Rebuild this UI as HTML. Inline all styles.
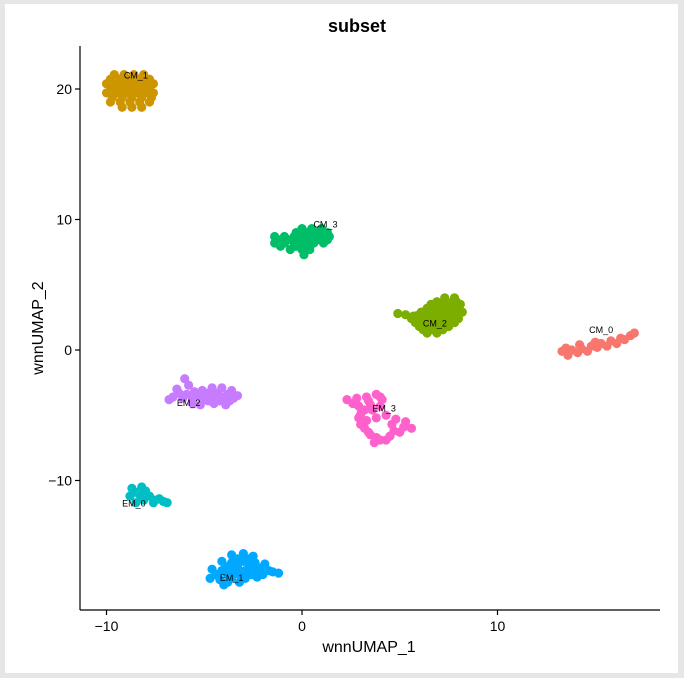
<!DOCTYPE html>
<html><head><meta charset="utf-8"><style>
html,body{margin:0;padding:0;background:#e6e6e6;}
#frame{position:absolute;left:5px;top:4px;width:673px;height:669px;background:#fff;}
svg{position:absolute;left:0;top:0;}
text{font-family:"Liberation Sans",sans-serif;}
</style></head><body>
<div id="frame"></div>
<svg id="chart" width="684" height="678"></svg>
<script>
const clusterNames=["CM_0","CM_1","CM_2","CM_3","EM_0","EM_1","EM_2","EM_3"];
const clusterColors=["#F8766D","#CD9600","#7CAE00","#00BE67","#00BFC4","#00A9FF","#C77CFF","#FF61CC"];
const xTicks=[-10,0,10];
const yTicks=[-10,0,10,20];
const ptsCM0=[[13.3,-0.1],[13.8,0.0],[14.3,0.1],[14.8,0.3],[15.3,0.5],[15.8,0.7],[16.3,0.9],[16.8,1.1],[13.6,-0.4],[14.1,-0.2],[14.6,-0.1],[15.1,0.2],[15.6,0.3],[14.2,0.4],[15.0,0.6],[16.1,0.5],[13.5,0.15],[16.5,0.8],[17.0,1.3]];
const ptsCM1=[[-9.6,21.1],[-9.1,21.1],[-8.6,21.1],[-8.1,21.1],[-10.0,20.4],[-9.5,20.4],[-9.0,20.4],[-8.5,20.4],[-8.0,20.4],[-7.6,20.4],[-10.0,19.7],[-9.5,19.7],[-9.0,19.7],[-8.5,19.7],[-8.0,19.7],[-7.6,19.7],[-9.8,19.0],[-9.3,19.0],[-8.8,19.0],[-8.3,19.0],[-7.8,19.0],[-9.2,18.6],[-8.7,18.6],[-8.2,18.6],
 [-9.8,20.75],[-9.3,20.75],[-8.8,20.75],[-8.3,20.75],[-7.8,20.75],[-9.75,20.05],[-9.25,20.05],[-8.75,20.05],[-8.25,20.05],[-7.8,20.05],[-9.7,19.35],[-9.2,19.35],[-8.7,19.35],[-8.2,19.35],[-7.7,19.35]];
const ptsCM2=[[7.3,4.0],[7.8,4.0],[6.6,3.5],[7.1,3.5],[7.6,3.5],[8.1,3.5],[6.1,2.9],[6.6,2.9],[7.1,2.9],[7.6,2.9],[8.2,2.9],[5.6,2.4],[6.1,2.4],[6.6,2.4],[7.1,2.4],[7.6,2.4],[8.0,2.4],[6.0,1.8],[6.5,1.8],[7.0,1.8],[7.5,1.8],[6.4,1.3],[6.9,1.3],[4.9,2.8],[5.3,2.7],[5.7,2.6],
 [6.9,3.7],[7.4,3.7],[7.9,3.7],[6.4,3.2],[6.9,3.2],[7.4,3.2],[7.9,3.2],[5.9,2.65],[6.4,2.65],[6.9,2.65],[7.4,2.65],[7.9,2.65],[5.8,2.1],[6.3,2.1],[6.8,2.1],[7.3,2.1],[7.8,2.1],[6.2,1.55],[6.7,1.55],[7.2,1.55]];
const ptsCM3=[[0.0,9.3],[0.5,9.3],[1.0,9.3],[-1.4,8.7],[-0.9,8.7],[-0.4,8.7],[0.1,8.7],[0.6,8.7],[1.1,8.7],[1.4,8.7],[-1.4,8.2],[-0.9,8.2],[-0.4,8.2],[0.1,8.2],[0.6,8.2],[1.1,8.2],[-0.6,7.7],[0.0,7.7],[0.4,7.7],[0.1,7.3],
 [-0.3,9.0],[0.3,9.0],[0.8,9.0],[1.3,9.0],[-1.2,8.45],[-0.7,8.45],[-0.2,8.45],[0.3,8.45],[0.8,8.45],[1.3,8.45],[-1.1,7.95],[-0.3,7.95],[0.3,7.95]];
const ptsEM0=[[-8.7,-10.6],[-8.2,-10.5],[-8.8,-11.2],[-8.3,-11.1],[-7.8,-11.2],[-7.3,-11.4],[-6.9,-11.7],[-8.5,-11.7],[-7.6,-11.7],[-8.5,-10.9],[-8.0,-10.8],[-8.1,-11.5],[-7.5,-11.5],[-7.1,-11.6]];
const ptsEM1=[[-3.6,-15.7],[-3.0,-15.6],[-2.5,-15.8],[-4.1,-16.2],[-3.6,-16.3],[-3.0,-16.2],[-2.4,-16.3],[-1.9,-16.4],[-4.6,-16.8],[-4.1,-16.9],[-3.5,-16.9],[-2.9,-16.9],[-2.3,-16.9],[-1.7,-16.9],[-1.2,-17.1],[-4.7,-17.5],[-4.2,-17.6],[-3.6,-17.5],[-2.9,-17.5],[-2.3,-17.4],[-4.0,-18.0],
 [-3.3,-16.0],[-2.7,-16.0],[-3.9,-16.6],[-3.3,-16.6],[-2.7,-16.6],[-2.1,-16.7],[-4.4,-17.2],[-3.8,-17.2],[-3.2,-17.2],[-2.6,-17.2],[-2.0,-17.2],[-1.5,-17.0],[-3.8,-17.8],[-3.2,-17.8]];
const ptsEM2=[[-6.0,-2.2],[-5.8,-2.7],[-6.4,-3.0],[-5.5,-3.2],[-6.6,-3.6],[-6.1,-3.7],[-5.6,-3.8],[-5.1,-3.1],[-4.6,-2.9],[-4.1,-2.9],[-3.6,-3.1],[-5.0,-3.7],[-4.5,-3.5],[-4.0,-3.6],[-3.5,-3.7],[-4.5,-4.1],[-5.2,-4.2],[-3.9,-4.2],[-3.3,-3.5],
 [-5.3,-3.5],[-4.8,-3.3],[-4.3,-3.3],[-3.8,-3.4],[-6.3,-3.3],[-5.9,-3.4],[-4.8,-3.9],[-4.2,-3.9],[-3.7,-3.9],[-6.8,-3.8],[-5.6,-4.1]];
const ptsEM3=[[2.3,-3.8],[2.8,-3.7],[3.3,-3.6],[3.8,-3.4],[4.1,-3.8],[2.9,-4.3],[3.5,-4.2],[4.0,-4.3],[3.0,-4.9],[3.3,-5.4],[4.3,-5.0],[4.8,-5.3],[5.3,-5.5],[5.6,-6.0],[3.2,-6.0],[3.5,-6.5],[4.0,-6.9],[3.7,-7.1],[4.5,-6.6],[5.0,-6.3],
 [2.6,-4.1],[3.4,-3.9],[3.2,-4.6],[2.9,-5.2],[3.6,-4.6],[3.0,-5.7],[3.4,-6.3],[3.8,-6.7],[4.3,-6.9],[4.7,-6.2],[5.2,-5.9],[4.6,-5.7],[4.0,-3.6],[3.8,-5.2]];
const labelPos=[[15.3,1.3],[-8.5,20.8],[6.8,1.8],[1.2,9.4],[-8.6,-12.0],[-3.6,-17.7],[-5.8,-4.3],[4.2,-4.7]];
const clusterPoints=[ptsCM0,ptsCM1,ptsCM2,ptsCM3,ptsEM0,ptsEM1,ptsEM2,ptsEM3];

const NS="http://www.w3.org/2000/svg";
const svg=document.getElementById('chart');
const X=v=>302+19.55*v;
const Y=v=>350-13.05*v;
function mk(tag,attrs,parent){const e=document.createElementNS(NS,tag);for(const k in attrs)e.setAttribute(k,attrs[k]);(parent||svg).appendChild(e);return e;}

clusterPoints.forEach((pts,ci)=>{
  const g=mk('g',{});
  
  
  pts.forEach(p=>{
    const c=mk('circle',{cx:X(p[0]),cy:Y(p[1]),r:4.6,fill:clusterColors[ci]},g);
    
    
  });
});
labelPos.forEach((p,i)=>{
  const t=mk('text',{x:X(p[0]),y:Y(p[1]),'font-size':9,'text-anchor':'middle',fill:'#000'});
  t.textContent=clusterNames[i];
  
  
});
const ax=mk('line',{x1:80,y1:610,x2:660,y2:610,stroke:'#000','stroke-width':1.2});


const ay=mk('line',{x1:80,y1:46,x2:80,y2:610,stroke:'#000','stroke-width':1.2});


xTicks.forEach(v=>{
  mk('line',{x1:X(v),y1:610,x2:X(v),y2:615,stroke:'#000','stroke-width':1.2});
  const t=mk('text',{x:X(v),y:631,'font-size':14,'text-anchor':'middle'});
  t.textContent=(v<0?'\u2212'+(-v):v);
  
  
});
yTicks.forEach(v=>{
  mk('line',{x1:75,y1:Y(v),x2:80,y2:Y(v),stroke:'#000','stroke-width':1.2});
  const t=mk('text',{x:72,y:Y(v)+5,'font-size':14,'text-anchor':'end'});
  t.textContent=(v<0?'\u2212'+(-v):v);
  
  
});
const title=mk('text',{x:357,y:32,'font-size':18,'font-weight':'bold','text-anchor':'middle'});
title.textContent='subset';


const xl=mk('text',{x:369,y:652,'font-size':16,'text-anchor':'middle'});
xl.textContent='wnnUMAP_1';


const yl=mk('text',{x:0,y:0,'font-size':16,'text-anchor':'middle',transform:'translate(43,328) rotate(-90)'});
yl.textContent='wnnUMAP_2';


</script>
</body></html>
